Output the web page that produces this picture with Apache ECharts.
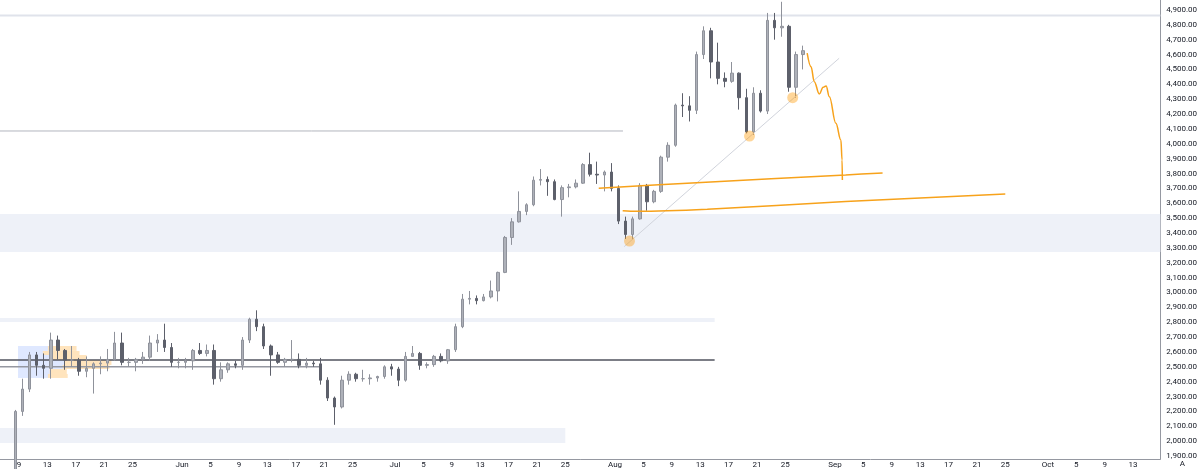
<!DOCTYPE html>
<html>
<head>
<meta charset="utf-8">
<script src="https://cdn.jsdelivr.net/npm/echarts@6/dist/echarts.min.js"></script>
<style>
  html, body { margin: 0; padding: 0; background: #fff; }
  #chart { width: 1200px; height: 469px; }
</style>
</head>
<body>
<div id="chart"></div>
<script>
// ETH daily candles: [open, close, low, high]
const firstCandle = "2025-05-08";
const candles = [
  // May 8 - 31
  [1810, 2200, 1800, 2210], [2200, 2350, 2170, 2420], [2350, 2580, 2330, 2600], [2580, 2510, 2440, 2600],
  [2510, 2490, 2420, 2590], [2490, 2680, 2420, 2730], [2680, 2610, 2550, 2710], [2610, 2545, 2480, 2620],
  [2545, 2545, 2500, 2640], [2545, 2470, 2440, 2560], [2470, 2490, 2430, 2570], [2490, 2520, 2320, 2530],
  [2520, 2525, 2450, 2570], [2525, 2550, 2470, 2620], [2550, 2660, 2540, 2735], [2660, 2530, 2510, 2730],
  [2530, 2530, 2500, 2560], [2530, 2550, 2470, 2560], [2550, 2565, 2520, 2600], [2565, 2660, 2540, 2710],
  [2660, 2680, 2600, 2720], [2680, 2630, 2600, 2790], [2630, 2530, 2500, 2660], [2530, 2530, 2490, 2560],
  // June
  [2530, 2540, 2490, 2560], [2540, 2610, 2480, 2620], [2610, 2590, 2580, 2660], [2590, 2610, 2570, 2650],
  [2610, 2420, 2380, 2650], [2420, 2480, 2400, 2530], [2480, 2520, 2460, 2530], [2520, 2510, 2490, 2540],
  [2510, 2680, 2480, 2700], [2680, 2820, 2660, 2830], [2820, 2770, 2740, 2880], [2770, 2640, 2620, 2790],
  [2640, 2580, 2440, 2650], [2580, 2530, 2520, 2600], [2530, 2550, 2500, 2560], [2550, 2550, 2530, 2680],
  [2550, 2510, 2490, 2590], [2510, 2525, 2490, 2560], [2525, 2520, 2500, 2540], [2520, 2410, 2380, 2560],
  [2410, 2290, 2270, 2430], [2290, 2230, 2110, 2300], [2230, 2410, 2220, 2440], [2410, 2450, 2380, 2470],
  [2450, 2420, 2400, 2460], [2420, 2420, 2400, 2480], [2420, 2425, 2380, 2450], [2425, 2435, 2400, 2440],
  [2435, 2500, 2420, 2510], [2500, 2485, 2440, 2520],
  // July
  [2485, 2410, 2370, 2500], [2410, 2570, 2400, 2600], [2570, 2590, 2570, 2640], [2590, 2510, 2480, 2600],
  [2510, 2515, 2490, 2530], [2515, 2570, 2500, 2580], [2570, 2540, 2530, 2590], [2540, 2615, 2520, 2620],
  [2615, 2770, 2600, 2790], [2770, 2955, 2760, 2990], [2955, 2960, 2920, 3010], [2960, 2945, 2920, 2980],
  [2945, 2970, 2940, 2990], [2970, 3010, 2960, 3080], [3010, 3135, 2940, 3140], [3135, 3370, 3130, 3380],
  [3370, 3475, 3320, 3500], [3475, 3545, 3470, 3680], [3545, 3590, 3520, 3600], [3590, 3755, 3580, 3780],
  [3755, 3760, 3720, 3830], [3760, 3745, 3650, 3780], [3745, 3625, 3620, 3760], [3625, 3705, 3510, 3720],
  [3705, 3710, 3640, 3730], [3710, 3735, 3700, 3760], [3735, 3860, 3730, 3870], [3860, 3795, 3780, 3940],
  [3795, 3790, 3730, 3880], [3790, 3810, 3680, 3820], [3810, 3700, 3680, 3870],
  // August 1 - 27
  [3700, 3480, 3460, 3720], [3480, 3390, 3360, 3510], [3390, 3495, 3355, 3510], [3495, 3720, 3490, 3735],
  [3720, 3610, 3550, 3730], [3610, 3680, 3600, 3690], [3680, 3910, 3670, 3920], [3910, 3990, 3880, 4010],
  [3990, 4260, 3980, 4270], [4260, 4255, 4180, 4340], [4255, 4225, 4150, 4320], [4225, 4600, 4200, 4620],
  [4600, 4760, 4570, 4790], [4760, 4550, 4440, 4780], [4550, 4440, 4400, 4680], [4440, 4420, 4380, 4480],
  [4420, 4475, 4410, 4550], [4475, 4310, 4230, 4480], [4310, 4080, 4070, 4370], [4080, 4340, 4060, 4380],
  [4340, 4220, 4210, 4360], [4220, 4830, 4200, 4880], [4830, 4780, 4700, 4880], [4780, 4790, 4720, 4955],
  [4790, 4380, 4350, 4800], [4380, 4600, 4310, 4620], [4600, 4626.23, 4500, 4660]
];
const lastPrice = 4626.23;
const countdown = "01:32:16";

const viewStart = "2025-05-06T08:05";
const viewEnd = "2025-10-16T20:24";
const priceMin = 1880;
const priceMax = 4967;
const priceTicks = [1900, 2000, 2100, 2200, 2300, 2400, 2500, 2600, 2700, 2800, 2900, 3000, 3100, 3200,
  3300, 3400, 3500, 3600, 3700, 3800, 3900, 4000, 4100, 4200, 4300, 4400, 4500, 4600, 4700, 4800, 4900];
const labelMonths = [4, 5, 6, 7, 8, 9];
const labelDays = [1, 5, 9, 13, 17, 21, 25];
const monthNames = ["Jan", "Feb", "Mar", "Apr", "May", "Jun", "Jul", "Aug", "Sep", "Oct", "Nov", "Dec"];

// drawings: [date, price]
const topLevel = [[viewStart, 4863], [viewEnd, 4863]];
const level4086 = [[viewStart, 4086], ["2025-08-02T03:00", 4086]];
const level2546 = [[viewStart, 2546], ["2025-08-15T01:00", 2546]];
const level2500 = [[viewStart, 2500], ["2025-06-20T15:00", 2500]];
const trendLine = [["2025-08-02T07:00", 3308], ["2025-09-01T14:00", 4575]];
const upperCurve = [["2025-07-29T17:00", 3701], ["2025-08-12T12:00", 3738], ["2025-09-02T12:00", 3790], ["2025-09-07T17:00", 3804]];
const lowerCurve = [["2025-08-02T02:00", 3550], ["2025-08-04T00:00", 3546], ["2025-08-14T00:00", 3560],
  ["2025-09-02T12:00", 3612], ["2025-09-25T00:00", 3662]];
const projection = [["2025-08-28T02:00", 4609], ["2025-08-28T15:00", 4518], ["2025-08-29T02:00", 4418],
  ["2025-08-29T19:00", 4335], ["2025-08-30T08:00", 4380], ["2025-08-30T18:00", 4389], ["2025-08-31T05:00", 4317],
  ["2025-09-01T03:00", 4138], ["2025-09-01T20:00", 4025], ["2025-09-02T00:00", 3891], ["2025-09-02T01:00", 3757]];
const touches = [["2025-08-03T01:00", 3346], ["2025-08-19T23:00", 4052], ["2025-08-26T01:00", 4310]];

// zones: [from, to, low, high]
const zones = [
  [viewStart, viewEnd, 3272, 3528],
  [viewStart, "2025-08-15T01:00", 2802, 2828],
  [viewStart, "2025-07-25T00:00", 1988, 2089]
];
// volume profile rows: [low, high, buy end, sell end]
const profileStart = "2025-05-08T21:00";
const profileRows = [
  [2607, 2640, "2025-05-13T02:00", "2025-05-17T03:00"],
  [2580, 2607, "2025-05-12T09:00", "2025-05-17T13:00"],
  [2546, 2580, "2025-05-13T08:00", "2025-05-18T13:00"],
  [2512, 2546, "2025-05-15T11:00", "2025-05-22T01:00"],
  [2485, 2512, "2025-05-15T04:00", "2025-05-21T18:00"],
  [2452, 2485, "2025-05-13T08:00", "2025-05-15T18:00"],
  [2425, 2452, "2025-05-13T02:00", "2025-05-15T21:00"]
];

const ORIGIN = Date.UTC(2025, 4, 6);
const dayOf = (s) => (Date.parse(s + (s.length === 10 ? "T00:00Z" : "Z")) - ORIGIN) / 864e5;
const pts = (arr) => arr.map(([d, p]) => [dayOf(d), p]);

const candleData = candles.map((c, i) => [dayOf(firstCandle) + i + 0.5, ...c]);
const dayTicks = [];
labelMonths.forEach((m) => labelDays.forEach((d) => {
  const v = (Date.UTC(2025, m, d) - ORIGIN) / 864e5;
  if (v > dayOf(viewStart) && v < dayOf(viewEnd) - 2) dayTicks.push(v);
}));

const fmtPrice = (v) => v.toLocaleString("en-US", { minimumFractionDigits: 2, maximumFractionDigits: 2 });
const fmtDay = (v) => {
  const dt = new Date(ORIGIN + Math.round(v) * 864e5);
  return dt.getUTCDate() === 1 ? monthNames[dt.getUTCMonth()] : String(dt.getUTCDate());
};

const area = (from, to, low, high, color) => [
  { xAxis: dayOf(from), yAxis: low, itemStyle: { color } },
  { xAxis: dayOf(to), yAxis: high }
];
const zoneAreas = zones.map(([f, t, l, h]) => area(f, t, l, h, "#eef1f8"));
const profileAreas = [];
profileRows.forEach(([l, h, buyEnd, sellEnd]) => {
  profileAreas.push(area(profileStart, buyEnd, l, h, "rgba(41,98,255,0.15)"));
  profileAreas.push(area(buyEnd, sellEnd, l, h, "rgba(255,152,0,0.26)"));
});

const lineSeries = (data, color, width, extra) => Object.assign({
  type: "line", data: pts(data), showSymbol: false, silent: true, z: 3,
  lineStyle: { color, width }
}, extra || {});

const chart = echarts.init(document.getElementById("chart"));
chart.setOption({
  animation: false,
  backgroundColor: "#fff",
  grid: { left: 0, right: 34, top: 0, bottom: 10 },
  xAxis: {
    type: "value",
    min: dayOf(viewStart),
    max: dayOf(viewEnd),
    axisLine: { show: true, lineStyle: { color: "#9598a1" } },
    axisTick: { show: false },
    splitLine: { show: false },
    axisLabel: {
      customValues: dayTicks,
      formatter: fmtDay,
      fontSize: 8,
      color: "#131722",
      margin: 2,
      fontFamily: "Roboto"
    }
  },
  yAxis: {
    type: "value",
    position: "right",
    min: priceMin,
    max: priceMax,
    axisLine: { show: true, lineStyle: { color: "#9598a1" } },
    axisTick: { show: false },
    splitLine: { show: false },
    axisLabel: {
      customValues: priceTicks,
      formatter: fmtPrice,
      fontSize: 8,
      color: "#131722",
      margin: 6,
      fontFamily: "Roboto"
    }
  },
  graphic: [{
    type: "text", right: 15, bottom: 1,
    style: { text: "A", fontSize: 8, fill: "#131722", fontFamily: "Roboto" }
  }],
  series: [
    {
      type: "line", data: [], silent: true, z: 1,
      markArea: { silent: true, data: zoneAreas.concat(profileAreas) }
    },
    lineSeries(topLevel, "#e0e3eb", 2),
    lineSeries(level4086, "#b2b5be", 1),
    lineSeries(level2500, "#9598a1", 1.5),
    lineSeries(level2546, "#50535e", 1.5),
    {
      type: "candlestick",
      data: candleData,
      encode: { x: 0, y: [1, 2, 3, 4] },
      barWidth: 3,
      clip: true,
      z: 4,
      itemStyle: {
        color: "#aeb1b9", color0: "#5d606b",
        borderColor: "#8f929b", borderColor0: "#5d606b", borderWidth: 1
      },
      markLine: {
        silent: true,
        symbol: "none",
        lineStyle: { opacity: 0 },
        data: [{ yAxis: lastPrice }],
        label: {
          show: true,
          position: "end",
          distance: 1,
          formatter: fmtPrice(lastPrice) + "\n" + countdown,
          backgroundColor: "#b8bbc3",
          color: "#131722",
          fontSize: 7,
          lineHeight: 8,
          padding: [1, 2],
          fontFamily: "Roboto"
        }
      }
    },
    lineSeries(trendLine, "#d1d4dc", 1, { z: 5 }),
    lineSeries(upperCurve, "#f7a21b", 1.5, { smooth: 0.3, z: 5 }),
    lineSeries(lowerCurve, "#f7a21b", 1.5, { smooth: 0.3, z: 5 }),
    lineSeries(projection, "#f7a21b", 1.5, { smooth: 0.4, smoothMonotone: "x", z: 5 }),
    {
      type: "scatter", data: pts(touches), symbolSize: 11, silent: true, z: 6,
      itemStyle: { color: "rgba(255,152,0,0.5)" }
    }
  ]
});
</script>
</body>
</html>
